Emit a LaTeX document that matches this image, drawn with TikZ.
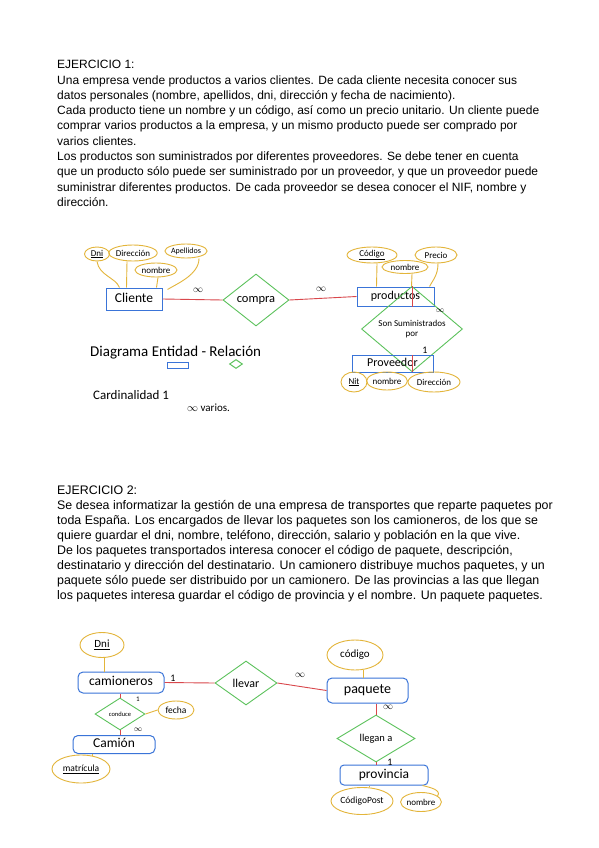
\documentclass[tikz,border=0pt]{standalone}
\usepackage{fontspec}
\setmainfont{Liberation Sans}
\newfontfamily\hand{Carlito}
\usetikzlibrary{shapes.geometric}
\definecolor{entblue}{HTML}{3A74D8}
\definecolor{attgold}{HTML}{E3B53A}
\definecolor{relgreen}{HTML}{5CC25C}
\definecolor{linkred}{HTML}{D9474C}
\begin{document}
\begin{tikzpicture}[x=1pt,y=-1pt,
 para/.style={anchor=base west, inner sep=0, font=\fontsize{12}{15}\selectfont},
 parb/.style={anchor=base west, inner sep=0, font=\fontsize{12.4}{15}\selectfont},
 ent/.style={draw=entblue, line width=1pt, rectangle, inner sep=0, text height=8.5, text depth=2.5, font=\hand\fontsize{12}{12}\selectfont},
 att/.style={draw=attgold, line width=0.9pt, ellipse, inner sep=0, font=\hand\fontsize{9}{9}\selectfont},
 rel/.style={draw=relgreen, line width=0.9pt, diamond, inner sep=0, font=\hand\fontsize{11}{11}\selectfont, align=center},
 alink/.style={draw=attgold, line width=0.9pt},
 rlink/.style={draw=linkred, line width=0.9pt},
 card/.style={inner sep=0, font=\hand\fontsize{10}{10}\selectfont},
 handtxt/.style={inner sep=0, anchor=base west, font=\hand\fontsize{15}{15}\selectfont}
]
\fill[white] (0,0) rectangle (599,848);
\useasboundingbox (0,0) rectangle (599,848);

% ---------------- Ejercicio 1 text
\node[para] (a1) at (57,69) {EJERCICIO 1:};
\node[para] (a2) at (57,84.25) {Una empresa vende productos a varios clientes. De cada cliente necesita conocer sus};
\node[para] (a3) at (57,99.5) {datos personales (nombre, apellidos, dni, dirección y fecha de nacimiento).};
\node[para] (a4) at (57,114.75) {Cada producto tiene un nombre y un código, así como un precio unitario. Un cliente puede};
\node[para] (a5) at (57,130) {comprar varios productos a la empresa, y un mismo producto puede ser comprado por};
\node[para] (a6) at (57,145.25) {varios clientes.};
\node[para] (a7) at (57,160.5) {Los productos son suministrados por diferentes proveedores. Se debe tener en cuenta};
\node[para] (a8) at (57,175.75) {que un producto sólo puede ser suministrado por un proveedor, y que un proveedor puede};
\node[para] (a9) at (57,191) {suministrar diferentes productos. De cada proveedor se desea conocer el NIF, nombre y};
\node[para] (a10) at (57,206.25) {dirección.};

% ---------------- Diagram 1
\node[ent, minimum width=56, minimum height=22, font=\hand\fontsize{13.5}{13.5}\selectfont] (cliente) at (134,299) {Cliente};
\node[att, minimum width=25, minimum height=14] (dni1) at (97,254) {\underline{Dni}};
\node[att, minimum width=44, minimum height=16] (dir1) at (133,253) {Dirección};
\node[att, minimum width=42, minimum height=14] (nom1) at (156,270) {nombre};
\node[att, minimum width=42, minimum height=14, font=\hand\fontsize{8}{8}\selectfont] (ape1) at (186,251) {Apellidos};
\draw[alink] (dni1.south) .. controls +(2,14) and +(-4,-10) .. ([xshift=14]cliente.north west);
\draw[alink] ([xshift=-6]dir1.south) -- ([xshift=21]cliente.north west);
\draw[alink] ([xshift=2]nom1.south) -- ([xshift=51]cliente.north west);
\draw[alink] ([xshift=13]ape1.south) .. controls +(0,16) and +(10,-6) .. ([xshift=5,yshift=-2]cliente.north east);

\node[rel, minimum width=66, minimum height=52, font=\hand\fontsize{12.5}{12.5}\selectfont] (compra) at (256,300) {compra};
\node[ent, minimum width=77, minimum height=19] (productos) at (395.5,296.5) {productos};
\node[att, minimum width=50, minimum height=16] (cod1) at (372,255) {\underline{Código}};
\node[att, minimum width=46, minimum height=13] (nom2) at (405,267) {nombre};
\node[att, minimum width=42, minimum height=16] (pre1) at (436,255) {Precio};
\draw[alink] ([xshift=5]cod1.south) -- ([xshift=20]productos.north west);
\draw[alink] ([xshift=7]nom2.south) -- ([xshift=55]productos.north west);
\draw[alink] ([xshift=2]pre1.south) .. controls +(0,12) and +(3,-6) .. ([xshift=73]productos.north west);

\draw[rlink] (cliente.east) -- (compra.west);
\draw[rlink] (compra.east) -- (productos.west);
\node[card] (c1) at (198,290) {$\infty$};
\node[card] (c2) at (321,289) {$\infty$};

\node[rel, minimum width=101, minimum height=41, font=\hand\fontsize{9}{10.5}\selectfont] (sumin) at (412,329) {Son Suministrados\\por};
\draw[rlink] (sumin.north |- productos.south) -- (sumin.north);
\node[card, font=\fontsize{8}{8}\selectfont] (c3) at (440,311) {$\infty$};
\node[ent, minimum width=81, minimum height=17] (proveedor) at (392.5,363.5) {Proveedor};
\draw[rlink] (sumin.south) -- (sumin.south |- proveedor.north);
\node[card] (c4) at (425,350) {1};
\node[att, minimum width=26, minimum height=20] (nit) at (354,382) {\underline{Nit}};
\node[att, minimum width=40, minimum height=18] (nom3) at (387,381) {nombre};
\node[att, minimum width=52, minimum height=20] (dir2) at (434,382) {Dirección};

% legend
\node[handtxt] (leg1) at (90,356) {Diagrama Entidad - Relación};
\node[draw=entblue, line width=1pt, minimum width=21, minimum height=6, inner sep=0] (legent) at (177.5,365) {};
\node[draw=relgreen, line width=1pt, diamond, minimum width=13, minimum height=9, inner sep=0] (legrel) at (236,364) {};
\node[handtxt, font=\hand\fontsize{13}{13}\selectfont] (leg2) at (93,399) {Cardinalidad 1};
\node[handtxt, font=\hand\fontsize{11}{11}\selectfont] (leg3) at (187,411) {$\infty$ varios.};

% ---------------- Ejercicio 2 text
\node[parb] (b1) at (57,494) {EJERCICIO 2:};
\node[parb] (b2) at (57,509.1) {Se desea informatizar la gestión de una empresa de transportes que reparte paquetes por};
\node[parb] (b3) at (57,524.2) {toda España. Los encargados de llevar los paquetes son los camioneros, de los que se};
\node[parb] (b4) at (57,539.3) {quiere guardar el dni, nombre, teléfono, dirección, salario y población en la que vive.};
\node[parb] (b5) at (57,554.4) {De los paquetes transportados interesa conocer el código de paquete, descripción,};
\node[parb] (b6) at (57,569.5) {destinatario y dirección del destinatario. Un camionero distribuye muchos paquetes, y un};
\node[parb] (b7) at (57,584.6) {paquete sólo puede ser distribuido por un camionero. De las provincias a las que llegan};
\node[parb] (b8) at (57,599.7) {los paquetes interesa guardar el código de provincia y el nombre. Un paquete paquetes.};

% ---------------- Diagram 2
\node[ent, rounded corners=5, minimum width=86, minimum height=21, font=\hand\fontsize{13.5}{13.5}\selectfont] (camioneros) at (121,682.5) {camioneros};
\node[att, minimum width=44, minimum height=25, font=\hand\fontsize{11}{11}\selectfont] (dni2) at (102,645) {\underline{Dni}};
\draw[alink] (dni2.-80) -- (dni2.-80 |- camioneros.north);

\node[rel, minimum width=62, minimum height=44, font=\hand\fontsize{12}{12}\selectfont] (llevar) at (246,683) {llevar};
\draw[rlink] (camioneros.east) -- (llevar.west);
\node[card] (c5) at (173,678) {1};
\node[ent, rounded corners=5, minimum width=81, minimum height=25, font=\hand\fontsize{14}{14}\selectfont] (paquete) at (367.5,690.5) {paquete};
\draw[rlink] (llevar.east) -- (paquete.west);
\node[card] (c6) at (300,675) {$\infty$};
\node[att, minimum width=56, minimum height=30, font=\hand\fontsize{11}{11}\selectfont] (cod2) at (355,655) {código};
\draw[alink] (cod2.-60) -- (cod2.-60 |- paquete.north);

\node[rel, minimum width=78, minimum height=47, font=\hand\fontsize{10.5}{10.5}\selectfont] (llegan) at (376,738.5) {llegan a};
\draw[rlink] (llegan.north |- paquete.south) -- (llegan.north);
\node[card] (c7) at (388,707) {$\infty$};
\node[ent, rounded corners=4, minimum width=88, minimum height=20, font=\hand\fontsize{13.5}{13.5}\selectfont] (provincia) at (384,775) {provincia};
\draw[rlink] (llegan.south) -- (llegan.south |- provincia.north);
\node[card] (c8) at (390,762) {1};
\node[att, minimum width=62, minimum height=27, font=\hand\fontsize{9.5}{9.5}\selectfont] (codpost) at (362,801) {CódigoPost};
\node[att, minimum width=38, minimum height=19] (nom4) at (421,802) {nombre};
\draw[alink] (codpost.60) -- (codpost.60 |- provincia.south);
\draw[alink] ([xshift=-6]provincia.south east) .. controls +(8,2) and +(4,-6) .. (nom4.20);

\node[rel, minimum width=50, minimum height=32, font=\hand\fontsize{6.5}{6.5}\selectfont] (conduce) at (120,714) {conduce};
\draw[rlink] (conduce.north |- camioneros.south) -- (conduce.north);
\node[card, font=\hand\fontsize{7}{7}\selectfont] (c9) at (138,699) {1};
\node[att, minimum width=36, minimum height=18, font=\hand\fontsize{9.5}{9.5}\selectfont] (fecha) at (176,710) {fecha};
\draw[alink] (conduce.east) -- (fecha.west);
\node[ent, rounded corners=5, minimum width=82, minimum height=18, font=\hand\fontsize{13.5}{13.5}\selectfont] (camion) at (114,744.5) {Camión};
\draw[rlink] (conduce.south) -- (conduce.south |- camion.north);
\node[card, font=\fontsize{8}{8}\selectfont] (c10) at (138,730) {$\infty$};
\node[att, minimum width=58, minimum height=28, font=\hand\fontsize{9.5}{9.5}\selectfont] (matricula) at (81,769) {\underline{matrícula}};
\draw[alink] (matricula.50) -- (matricula.50 |- camion.south);
\end{tikzpicture}
\end{document}
